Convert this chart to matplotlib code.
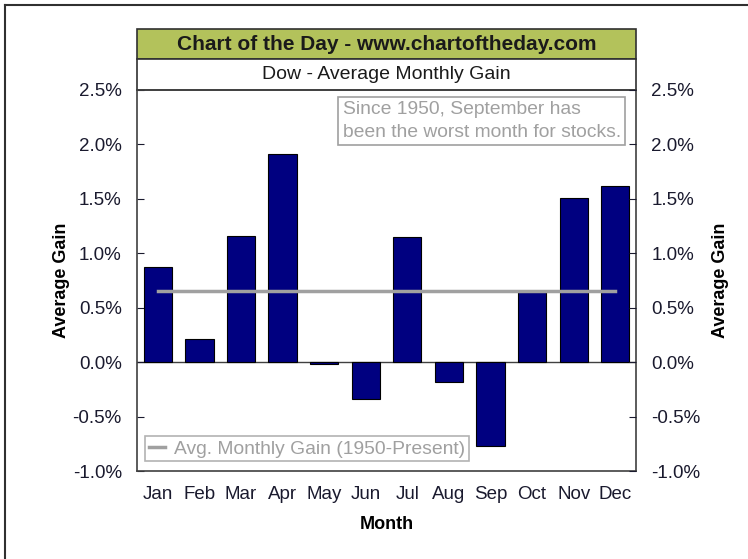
import numpy as np
import matplotlib
matplotlib.use('Agg')
import matplotlib.pyplot as plt
from matplotlib.patches import Rectangle
from matplotlib.lines import Line2D
from matplotlib.ticker import FuncFormatter

plt.rcParams['font.family'] = ['Liberation Sans', 'DejaVu Sans']

months = ['Jan', 'Feb', 'Mar', 'Apr', 'May', 'Jun',
          'Jul', 'Aug', 'Sep', 'Oct', 'Nov', 'Dec']
avg_gain = [0.87, 0.21, 1.16, 1.91, -0.02, -0.34,
            1.15, -0.18, -0.77, 0.64, 1.51, 1.62]
overall_avg = 0.65
yticks = [-1.0, -0.5, 0.0, 0.5, 1.0, 1.5, 2.0, 2.5]

title = 'Chart of the Day - www.chartoftheday.com'
subtitle = 'Dow - Average Monthly Gain'
note = 'Since 1950, September has\nbeen the worst month for stocks.'
legend_label = 'Avg. Monthly Gain (1950-Present)'

fig = plt.figure(figsize=(7.48, 5.59), dpi=100)
ax = fig.add_axes([0.1832, 0.1574, 0.6671, 0.6816])

x = np.arange(len(months))
ax.bar(x, avg_gain, width=0.68, color='#000080', edgecolor='black', linewidth=0.8, zorder=2)
ax.plot(x, [overall_avg] * len(months), color='#A0A0A0', lw=2.5, zorder=3,
        label=legend_label)
ax.axhline(0, color='#404040', lw=1.0, zorder=1)

ax.set_xlim(-0.5, 11.5)
ax.set_ylim(-1.0, 2.5)
ax.set_xticks(x)
ax.set_xticklabels(months)
ax.set_yticks(yticks)
pct = FuncFormatter(lambda v, p: '%.1f%%' % v)
ax.yaxis.set_major_formatter(pct)
ax.tick_params(axis='x', length=0, labelsize=13.5, pad=11, colors='#1a1a2e')
ax.tick_params(axis='y', direction='in', length=5, labelsize=13.5, pad=11, colors='#1a1a2e')
for sp in ax.spines.values():
    sp.set_color('#404040')
    sp.set_linewidth(1.2)
ax.set_xlabel('Month', fontsize=13, fontweight='bold', labelpad=9)
ax.set_ylabel('Average Gain', fontsize=13, fontweight='bold', labelpad=2)

ax2 = ax.twinx()
ax2.set_ylim(-1.0, 2.5)
ax2.set_yticks(yticks)
ax2.yaxis.set_major_formatter(pct)
ax2.tick_params(axis='y', direction='in', length=5, labelsize=13.5, pad=11, colors='#1a1a2e')
ax2.set_ylabel('Average Gain', fontsize=13, fontweight='bold', labelpad=8)
for sp in ax2.spines.values():
    sp.set_visible(False)

# title boxes above the plot
ax.add_patch(Rectangle((0, 1.0814), 1, 0.0787, transform=ax.transAxes, clip_on=False,
                       facecolor='#B3C25B', edgecolor='#303030', lw=1.2))
ax.add_patch(Rectangle((0, 1.0), 1, 0.0814, transform=ax.transAxes, clip_on=False,
                       facecolor='white', edgecolor='#303030', lw=1.2))
ax.text(0.5, 1.1207, title, transform=ax.transAxes, ha='center', va='center',
        fontsize=15, fontweight='bold', color='#1a1a1a')
ax.text(0.5, 1.0407, subtitle, transform=ax.transAxes, ha='center', va='center',
        fontsize=14, color='#1a1a1a')

ax.text(0.412, 0.918, note, transform=ax.transAxes, ha='left', va='center',
        fontsize=13.9, color='#A0A0A0', linespacing=1.45,
        bbox=dict(boxstyle='square,pad=0.22', facecolor='white', edgecolor='#A0A0A0', lw=1.2))

leg = ax.legend(loc='lower left', bbox_to_anchor=(0.005, 0.01), fontsize=13.9, frameon=True,
                fancybox=False, handlelength=0.8, handletextpad=0.5, borderpad=0.2,
                borderaxespad=0.3)
leg.get_frame().set_edgecolor('#A0A0A0')
leg.get_frame().set_linewidth(1.2)
for t in leg.get_texts():
    t.set_color('#A0A0A0')

# outer border of the screenshot
fig.add_artist(Line2D([5 / 748, 5 / 748], [0, 1 - 5 / 559], transform=fig.transFigure,
                      color='#303030', lw=1.5))
fig.add_artist(Line2D([5 / 748, 1], [1 - 5 / 559, 1 - 5 / 559], transform=fig.transFigure,
                      color='#303030', lw=1.5))

fig.savefig('out.png', dpi=100)
